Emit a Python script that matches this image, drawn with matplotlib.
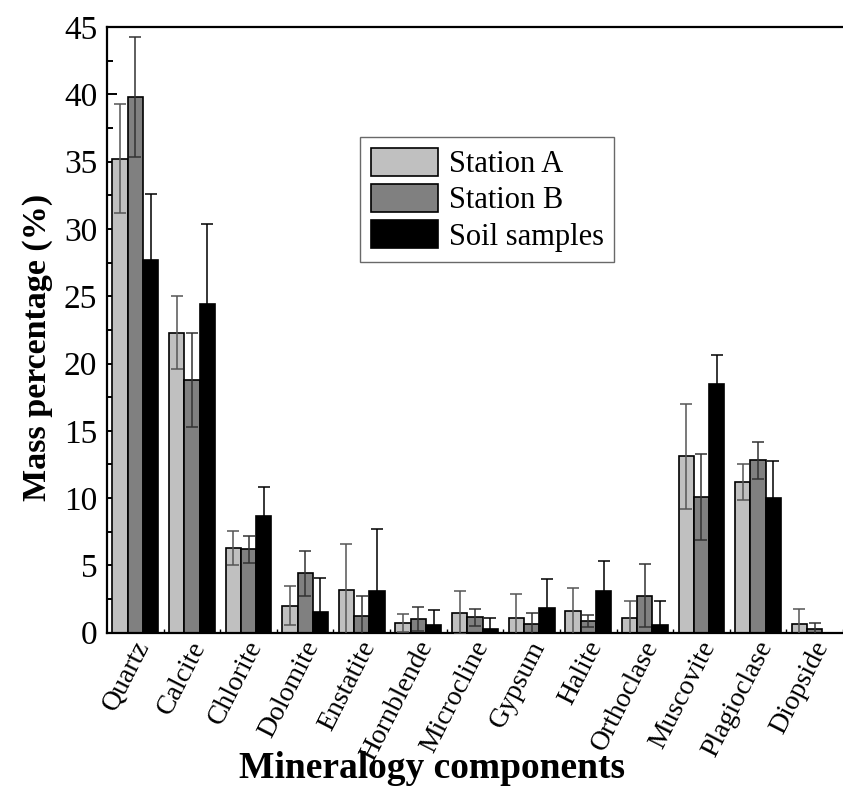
import matplotlib
matplotlib.use('Agg')
import matplotlib.pyplot as plt
import matplotlib.transforms as mtransforms
import numpy as np
from matplotlib.ticker import MultipleLocator

plt.rcParams['font.family'] = ['Liberation Serif', 'DejaVu Serif']

# data
minerals = ['Quartz', 'Calcite', 'Chlorite', 'Dolomite', 'Enstatite', 'Hornblende',
            'Microcline', 'Gypsum', 'Halite', 'Orthoclase', 'Muscovite',
            'Plagioclase', 'Diopside']
station_a = [35.2, 22.3, 6.3, 2.0, 3.2, 0.72, 1.49, 1.11, 1.58, 1.11, 13.1, 11.2, 0.67]
station_a_err = [4.05, 2.7, 1.25, 1.45, 3.4, 0.67, 1.58, 1.8, 1.76, 1.27, 3.9, 1.35, 1.1]
station_b = [39.8, 18.8, 6.2, 4.4, 1.21, 1.01, 1.14, 0.67, 0.87, 2.75, 10.1, 12.8, 0.25]
station_b_err = [4.45, 3.5, 1.0, 1.7, 1.5, 0.87, 0.65, 0.82, 0.47, 2.33, 3.2, 1.4, 0.45]
soil = [27.7, 24.4, 8.7, 1.57, 3.07, 0.59, 0.25, 1.81, 3.12, 0.59, 18.5, 10.0, 0.0]
soil_err = [4.9, 6.0, 2.15, 2.5, 4.6, 1.1, 0.87, 2.2, 2.23, 1.73, 2.1, 2.75, 0.0]

series = [('Station A', station_a, station_a_err, '#c0c0c0', '#555555'),
          ('Station B', station_b, station_b_err, '#808080', '#333333'),
          ('Soil samples', soil, soil_err, 'black', 'black')]

W, H = 843, 795
fig = plt.figure(figsize=(W / 100, H / 100), dpi=100)
ax = fig.add_axes([107 / W, 1 - 632.7 / H, 1 - 107 / W, (632.7 - 27) / H])

x = np.arange(len(minerals))
bw = 0.27
for i, (name, vals, errs, col, ecol) in enumerate(series):
    pos = x + (i - 1) * bw
    ax.bar(pos, vals, width=bw, color=col, edgecolor='black', linewidth=1.2,
           label=name, zorder=2)
    ax.errorbar(pos, vals, yerr=errs, fmt='none', ecolor=ecol, elinewidth=1.1,
                capsize=4.5, capthick=1.1, zorder=3)

ax.set_xlim(-0.5, 12.3)
ax.set_ylim(0, 45)
ax.yaxis.set_major_locator(MultipleLocator(5))
ax.yaxis.set_minor_locator(MultipleLocator(2.5))
ax.set_xticks(x)
ax.set_xticks(x + 0.5, minor=True)
ax.tick_params(axis='y', which='major', direction='in', length=7.5, width=1.4,
               labelsize=24, pad=7)
ax.tick_params(axis='y', which='minor', direction='in', length=4.5, width=1.4)
ax.tick_params(axis='x', which='both', direction='in', length=3, width=1)
ax.set_xticklabels(minerals, rotation=63, ha='right', va='center',
                   rotation_mode='anchor', fontsize=20)
shift = mtransforms.ScaledTranslation(8 / 100, 0, fig.dpi_scale_trans)
for lab in ax.get_xticklabels():
    lab.set_y(-0.008)
    lab.set_transform(lab.get_transform() + shift)
ax.spines['right'].set_visible(False)
for s in ['left', 'bottom', 'top']:
    ax.spines[s].set_linewidth(1.6)

fig.text(38 / W, 1 - 347 / H, 'Mass percentage (%)', rotation=90, ha='center',
         va='center', fontsize=24.5, fontweight='bold')
fig.text(432 / W, 1 - 769 / H, 'Mineralogy components', ha='center', va='center',
         fontsize=27, fontweight='bold')

leg = ax.legend(loc='upper left', bbox_to_anchor=(360 / W, 1 - 137 / H),
                bbox_transform=fig.transFigure, fontsize=22, frameon=True,
                fancybox=False, handlelength=2.2, handleheight=1.05,
                labelspacing=0.15, handletextpad=0.35, borderpad=0.35,
                borderaxespad=0)
leg.get_frame().set_edgecolor('#444444')
leg.get_frame().set_linewidth(1.0)

fig.savefig('out.png', dpi=100)
